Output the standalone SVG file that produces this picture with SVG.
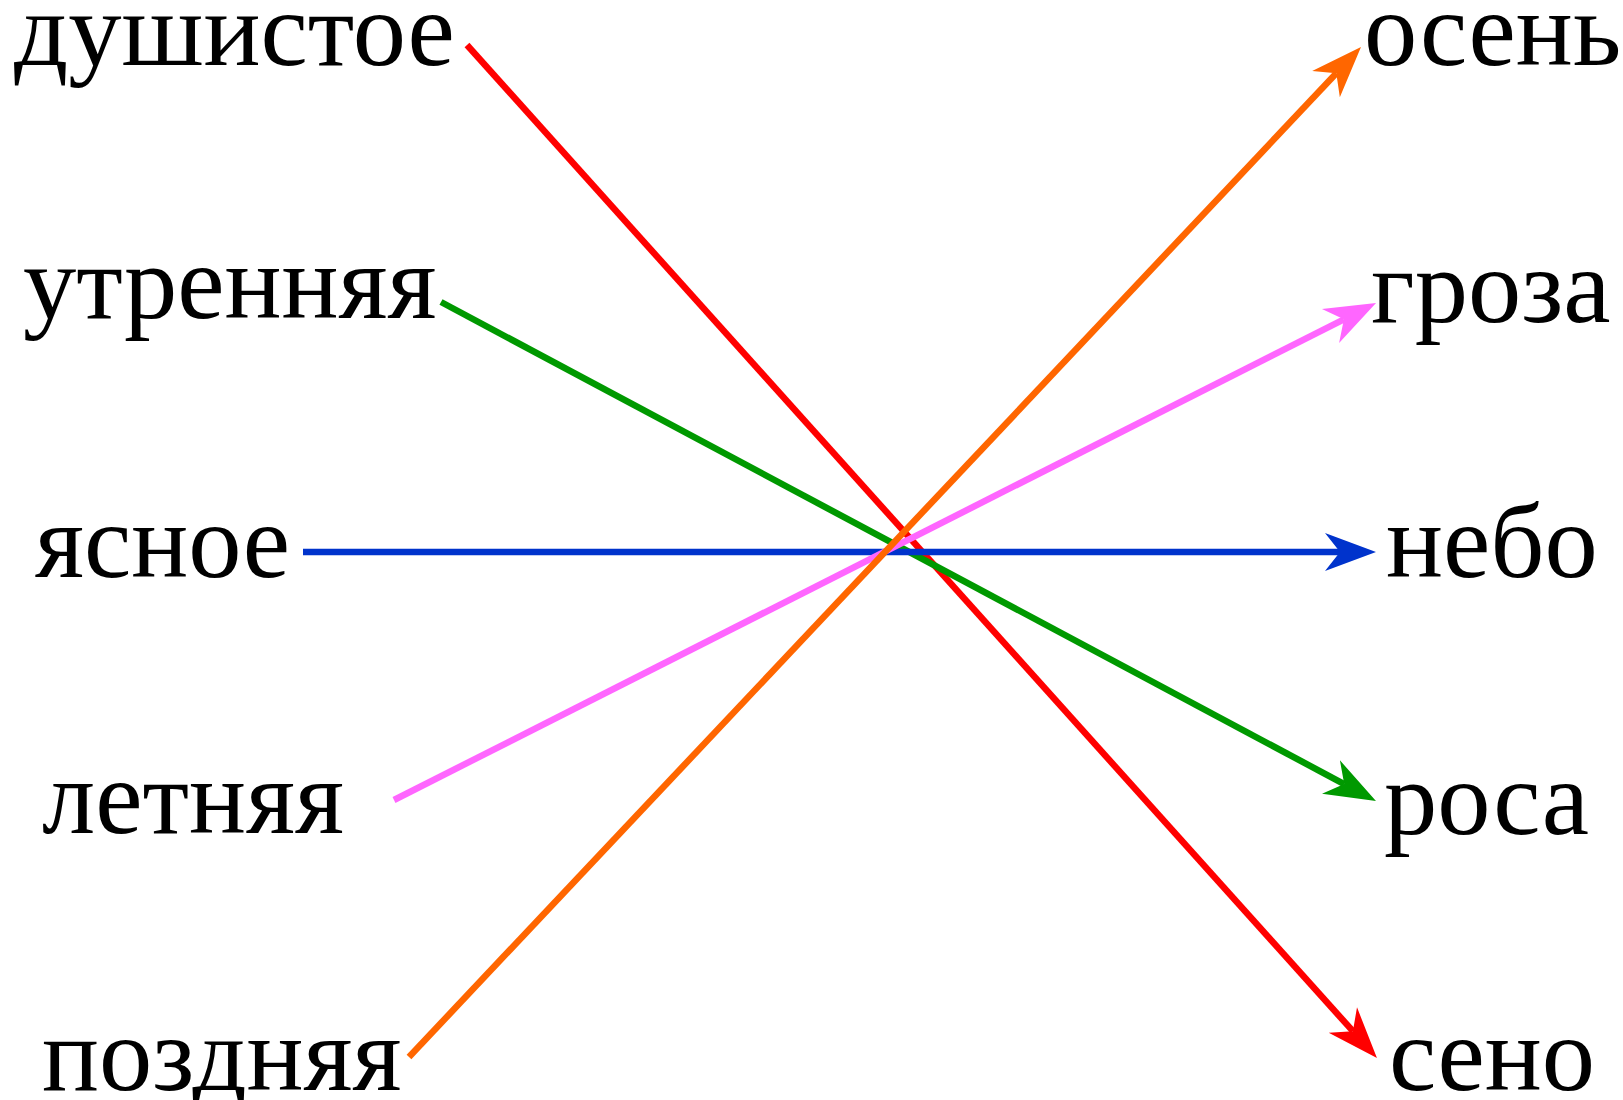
<svg xmlns="http://www.w3.org/2000/svg" width="1623" height="1100" viewBox="0 0 1623 1100">
<style>
text{font-family:"Liberation Serif","Times New Roman",serif;font-size:106.5px;fill:#000}
.c{fill:none;stroke-width:6.5;stroke-linecap:butt}
</style>
<defs>
<marker id="mr" markerUnits="userSpaceOnUse" orient="auto" refX="0" refY="0" markerWidth="60" markerHeight="50" viewBox="-20 -25 60 50" overflow="visible"><path d="M36,0 L-15,-19 L0,0 L-15,19 Z" fill="#ff0000"/></marker>
<marker id="mo" markerUnits="userSpaceOnUse" orient="auto" refX="0" refY="0" markerWidth="60" markerHeight="50" viewBox="-20 -25 60 50" overflow="visible"><path d="M36,0 L-15,-19 L0,0 L-15,19 Z" fill="#ff6600"/></marker>
<marker id="mg" markerUnits="userSpaceOnUse" orient="auto" refX="0" refY="0" markerWidth="60" markerHeight="50" viewBox="-20 -25 60 50" overflow="visible"><path d="M36,0 L-15,-19 L0,0 L-15,19 Z" fill="#009900"/></marker>
<marker id="mp" markerUnits="userSpaceOnUse" orient="auto" refX="0" refY="0" markerWidth="60" markerHeight="50" viewBox="-20 -25 60 50" overflow="visible"><path d="M36,0 L-15,-19 L0,0 L-15,19 Z" fill="#ff66ff"/></marker>
<marker id="mb" markerUnits="userSpaceOnUse" orient="auto" refX="0" refY="0" markerWidth="60" markerHeight="50" viewBox="-20 -25 60 50" overflow="visible"><path d="M36,0 L-15,-19 L0,0 L-15,19 Z" fill="#0033cc"/></marker>
</defs>
<rect width="1623" height="1100" fill="#fff"/>
<g id="left">
<g id="n-dushistoe"><text x="14" y="65">душистое</text></g>
<g id="n-utrennyaya"><text x="23" y="318">утренняя</text></g>
<g id="n-yasnoe"><text x="35" y="577">ясное</text></g>
<g id="n-letnyaya"><text x="42" y="833">летняя</text></g>
<g id="n-pozdnyaya"><text x="42" y="1090">поздняя</text></g>
</g>
<g id="right">
<g id="n-osen"><text x="1364" y="65">осень</text></g>
<g id="n-groza"><text x="1371" y="322">гроза</text></g>
<g id="n-nebo"><text x="1386" y="577">небо</text></g>
<g id="n-rosa"><text x="1384" y="834">роса</text></g>
<g id="n-seno"><text x="1389" y="1090">сено</text></g>
</g>
<g id="connectors">
<line class="c" x1="467" y1="45" x2="1352.9" y2="1031.2" stroke="#ff0000" marker-end="url(#mr)"/>
<line class="c" x1="441" y1="302" x2="1344.2" y2="784.1" stroke="#009900" marker-end="url(#mg)"/>
<line class="c" x1="303" y1="552" x2="1340" y2="552" stroke="#0033cc" marker-end="url(#mb)"/>
<line class="c" x1="394" y1="800" x2="1343.9" y2="319.3" stroke="#ff66ff" marker-end="url(#mp)"/>
<line class="c" x1="409" y1="1057" x2="1336.3" y2="73.2" stroke="#ff6600" marker-end="url(#mo)"/>
</g>
</svg>
